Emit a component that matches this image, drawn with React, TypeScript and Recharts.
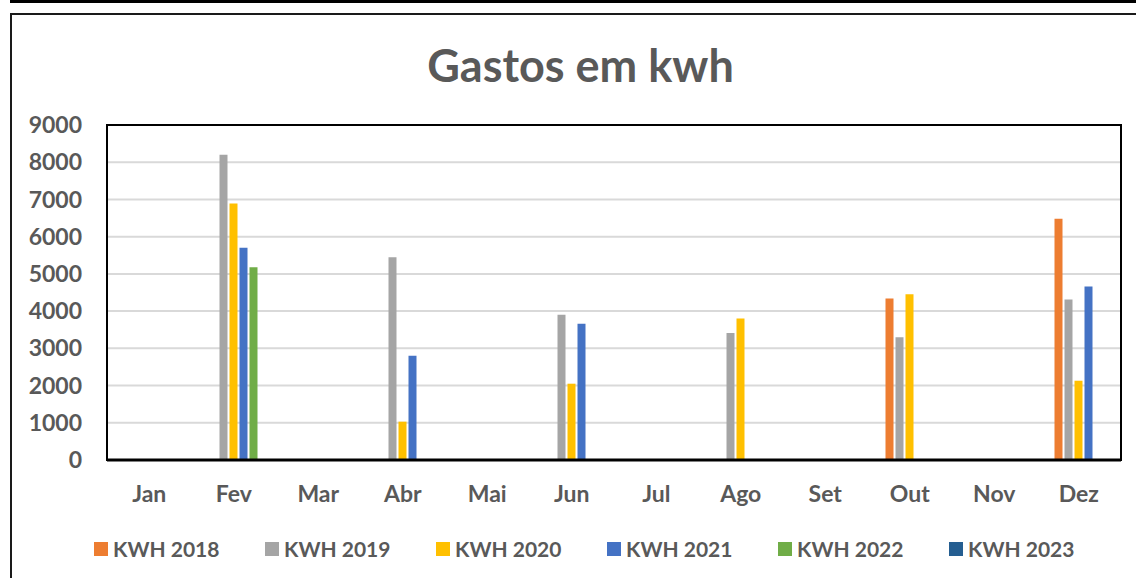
import { Bar, BarChart, CartesianGrid, Legend, ReferenceArea, XAxis, YAxis } from "recharts";

const MONTHS = ["Jan", "Fev", "Mar", "Abr", "Mai", "Jun", "Jul", "Ago", "Set", "Out", "Nov", "Dez"];
const Y_TICKS = [0, 1000, 2000, 3000, 4000, 5000, 6000, 7000, 8000, 9000];

const KWH_2018 = [null, null, null, null, null, null, null, null, null, 4340, null, 6480];
const KWH_2019 = [null, 8200, null, 5450, null, 3900, null, 3410, null, 3300, null, 4310];
const KWH_2020 = [null, 6890, null, 1030, null, 2050, null, 3800, null, 4450, null, 2130];
const KWH_2021 = [null, 5700, null, 2800, null, 3660, null, null, null, null, null, 4660];
const KWH_2022 = [null, 5180, null, null, null, null, null, null, null, null, null, null];
const KWH_2023 = [null, null, null, null, null, null, null, null, null, null, null, null];

// 2023 has no values and shares the 2022 slot, so each month holds five bars
const SERIES = [
  { key: "KWH 2018", values: KWH_2018, color: "#ED7D31", stack: "a" },
  { key: "KWH 2019", values: KWH_2019, color: "#A5A5A5", stack: "b" },
  { key: "KWH 2020", values: KWH_2020, color: "#FFC000", stack: "c" },
  { key: "KWH 2021", values: KWH_2021, color: "#4472C4", stack: "d" },
  { key: "KWH 2022", values: KWH_2022, color: "#70AD47", stack: "e" },
  { key: "KWH 2023", values: KWH_2023, color: "#255E91", stack: "e" },
];

const FONT = "Lato, 'Open Sans', sans-serif";
const TEXT = "#595959";

const data = MONTHS.map((month, i) => {
  const row: Record<string, string | number | null> = { month };
  for (const s of SERIES) row[s.key] = s.values[i];
  return row;
});

function KwhLegend() {
  return (
    <div style={{ display: "flex", paddingLeft: 94, fontFamily: FONT, fontWeight: 700, fontSize: 21, color: TEXT }}>
      {SERIES.map((s) => (
        <div key={s.key} style={{ width: 171, display: "flex", alignItems: "center" }}>
          <span style={{ width: 14, height: 14, background: s.color, marginRight: 5, display: "inline-block" }} />
          <span>{s.key}</span>
        </div>
      ))}
    </div>
  );
}

export default function App() {
  return (
    <div style={{ position: "absolute", left: 0, top: 0, width: 1136, height: 578, background: "#fff", overflow: "hidden" }}>
      <div style={{ position: "absolute", left: 10, top: 0, width: 1126, height: 3, background: "#000" }} />
      <div style={{ position: "absolute", left: 10, top: 13, width: 1200, height: 700, border: "2px solid #1a1a1a", boxSizing: "border-box" }} />
      <div
        style={{
          position: "absolute",
          left: 0,
          width: 1161,
          top: 37,
          textAlign: "center",
          fontFamily: FONT,
          fontWeight: 700,
          fontSize: 45,
          color: TEXT,
          lineHeight: "56px",
        }}
      >
        Gastos em kwh
      </div>
      <div style={{ position: "absolute", left: 0, top: 0 }}>
        <BarChart
          width={1136}
          height={578}
          data={data}
          margin={{ top: 125, right: 15, bottom: 78, left: 0 }}
          barSize={8}
          barGap={2}
        >
          <CartesianGrid vertical={false} stroke="#D9D9D9" strokeWidth={2} />
          <XAxis
            dataKey="month"
            height={40}
            tickLine={false}
            tickSize={0}
            tickMargin={26}
            axisLine={{ stroke: "#000", strokeWidth: 3 }}
            tick={{ fill: TEXT, fontFamily: FONT, fontWeight: 700, fontSize: 23 }}
            interval={0}
          />
          <YAxis
            width={107}
            domain={[0, 9000]}
            ticks={Y_TICKS}
            tickLine={false}
            tickSize={0}
            tickMargin={25}
            axisLine={false}
            tick={{ fill: TEXT, fontFamily: FONT, fontWeight: 700, fontSize: 23 }}
            interval={0}
          />
          <ReferenceArea y1={0} y2={9000} fill="none" stroke="#000" strokeWidth={2} />
          {SERIES.map((s) => (
            <Bar key={s.key} dataKey={s.key} fill={s.color} stackId={s.stack} isAnimationActive={false} />
          ))}
          <Legend
            layout="horizontal"
            align="center"
            verticalAlign="middle"
            wrapperStyle={{ left: 0, top: 536, width: 1136 }}
            content={() => <KwhLegend />}
          />
        </BarChart>
      </div>
    </div>
  );
}
